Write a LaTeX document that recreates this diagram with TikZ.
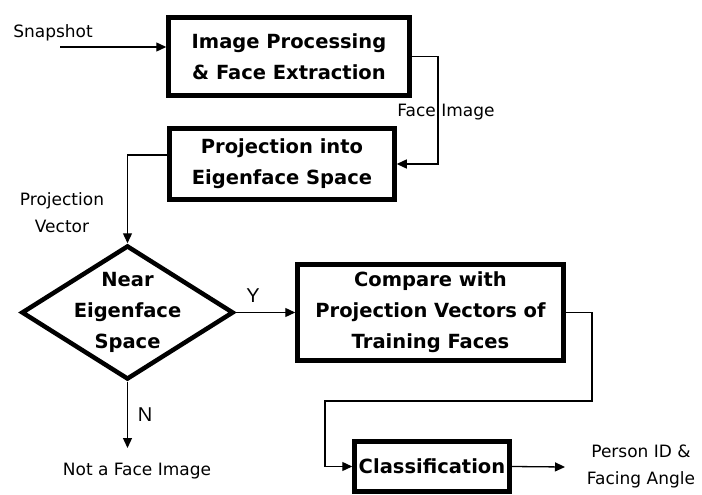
\documentclass[tikz,border=0pt]{standalone}
\usepackage{fontspec}
\setmainfont{DejaVu Sans}
\newfontfamily\arialfont{Liberation Sans}
\usetikzlibrary{arrows.meta,shapes.geometric}

\begin{document}
\begin{tikzpicture}[x=1pt,y=-1pt,>={Triangle[length=10pt,width=9pt]},
 stepbox/.style={draw,line width=4.5pt,inner sep=0pt,align=center,
  font=\fontsize{19.5}{31}\selectfont\bfseries},
 lbl/.style={font=\fontsize{17}{27}\selectfont,align=center},
 yn/.style={font=\arialfont\fontsize{20}{22}\selectfont},
 wire/.style={line width=1.3pt}]
 \useasboundingbox (0,0) rectangle (702,495);
 % boxes
 \node[stepbox,minimum width=241,minimum height=78] (proc) at (289,56.5)
  {Image Processing\\\& Face Extraction};
 \node[stepbox,minimum width=225,minimum height=71] (proj) at (282,164)
  {Projection into\\Eigenface Space};
 \node[stepbox,diamond,aspect=1.6,inner sep=-7pt,minimum width=212,minimum height=134]
  (near) at (127.5,312.5) {Near\\Eigenface\\Space};
 \node[stepbox,minimum width=266,minimum height=96] (cmp) at (430.5,312.5)
  {Compare with\\Projection Vectors of\\Training Faces};
 \node[stepbox,minimum width=155,minimum height=50] (cls) at (432,466.5)
  {Classification};
 % labels
 \node[lbl] (snap) at (53,33) {Snapshot};
 \node[lbl] (face) at (446,112) {Face Image};
 \node[lbl] (pvec) at (62,213) {Projection\\Vector};
 \node[lbl] (notface) at (137,471) {Not a Face Image};
 \node[lbl] (pid) at (641,466) {Person ID \&\\Facing Angle};
 \node[yn] (yes) at (253,296) {Y};
 \node[yn] (no) at (145,415) {N};
 \coordinate (s0) at (60,47);
 \coordinate (fr) at (438,0);
 \coordinate (r1) at (592,401);
 \coordinate (l1) at (325,401);
 \coordinate (nend) at (127.5,448);
 \coordinate (pend) at (565,467);
 % connectors
 \draw[wire,->] (s0) -- (s0 -| proc.west);
 \draw[wire,->] (proc.east) -| (fr |- proj.east) -- (proj.east);
 \draw[wire,->] ([yshift=9pt]proj.west) -| (near.north);
 \draw[wire,->] (near.east) -- (cmp.west);
 \draw[wire,->] (near.south) -- (nend);
 \draw[wire,->] (cmp.east) -| (r1) -- (l1) |- (cls.west);
 \draw[wire,->] (cls.east) -- (pend);
\end{tikzpicture}
\end{document}
